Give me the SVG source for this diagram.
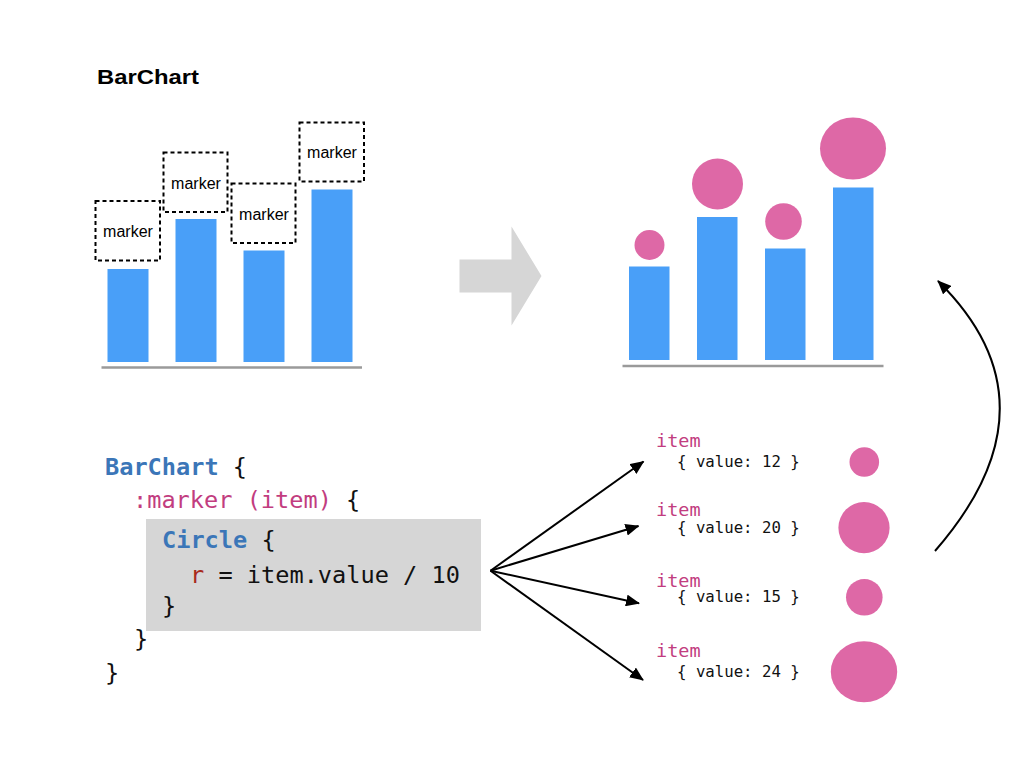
<svg xmlns="http://www.w3.org/2000/svg" width="1024" height="768" viewBox="0 0 1024 768">
<defs>
<style>
.bar{fill:#499ff8}
.base{stroke:#9a9a9a;stroke-width:2.5;fill:none}
.dot{fill:#de68a6}
.mk{fill:#fff;stroke:#000;stroke-width:2;stroke-dasharray:4 3}
.mkt{font-family:"Liberation Sans",Arial,sans-serif;font-size:16px;fill:#000;text-anchor:middle}
.title{font-family:"Liberation Sans",Arial,sans-serif;font-size:21px;font-weight:bold;fill:#000}
.code{font-family:"DejaVu Sans Mono","Liberation Mono",monospace;font-size:23.6px;fill:#111}
.kw{font-weight:bold;fill:#3b76b8}
.pk{fill:#c23d7f}
.rd{fill:#a82a1c}
.it{font-family:"DejaVu Sans Mono","Liberation Mono",monospace;font-size:18.5px;fill:#c23d7f}
.val{font-family:"DejaVu Sans Mono","Liberation Mono",monospace;font-size:15.7px;fill:#111}
.conn{stroke:#000;stroke-width:2;fill:none;marker-end:url(#ah)}
</style>
<marker id="ah" markerUnits="userSpaceOnUse" markerWidth="14" markerHeight="12" viewBox="0 0 14 12" refX="13" refY="6" orient="auto">
<path d="M0,0 L14,6 L0,12 Z" fill="#000"/>
</marker>
</defs>
<rect width="1024" height="768" fill="#fff"/>

<text class="title" x="97" y="84" textLength="102" lengthAdjust="spacingAndGlyphs">BarChart</text>

<g id="left-chart">
<rect class="bar" x="107.5" y="269" width="41" height="93"/>
<rect class="bar" x="175.5" y="219" width="41" height="143"/>
<rect class="bar" x="243.5" y="250.5" width="41" height="111.5"/>
<rect class="bar" x="311.5" y="189.5" width="41" height="172.5"/>
<line class="base" x1="101.5" y1="367.5" x2="362" y2="367.5"/>
</g>
<g id="marker1"><rect class="mk" x="95.5" y="201" width="64.5" height="59.5"/><text class="mkt" x="128" y="237">marker</text></g>
<g id="marker2"><rect class="mk" x="163.5" y="152.5" width="64" height="59.5"/><text class="mkt" x="196" y="189">marker</text></g>
<g id="marker3"><rect class="mk" x="231.5" y="183.5" width="64" height="59.5"/><text class="mkt" x="264" y="220">marker</text></g>
<g id="marker4"><rect class="mk" x="299.5" y="122.5" width="64.5" height="59"/><text class="mkt" x="332" y="158">marker</text></g>

<g id="big-arrow">
<path d="M459.5,259.5 H511.5 V226.5 L541.5,276 L511.5,325.5 V292.5 H459.5 Z" fill="#d6d6d6"/>
</g>

<g id="right-chart">
<rect class="bar" x="629" y="266.5" width="40.5" height="93.5"/>
<rect class="bar" x="697" y="217" width="40.5" height="143"/>
<rect class="bar" x="765" y="248.5" width="40.5" height="111.5"/>
<rect class="bar" x="833" y="187.5" width="40.5" height="172.5"/>
<line class="base" x1="622.5" y1="366" x2="883.5" y2="366"/>
<circle class="dot" cx="649.5" cy="245" r="15"/>
<circle class="dot" cx="717.5" cy="184" r="25.5"/>
<circle class="dot" cx="783.5" cy="221.5" r="18.3"/>
<ellipse class="dot" cx="853" cy="148.5" rx="33" ry="31"/>
</g>

<g id="code">
<rect x="146" y="519" width="335" height="112" fill="#d6d6d6"/>
<text class="code" x="105" y="475"><tspan class="kw">BarChart</tspan> {</text>
<text class="code" x="133" y="508"><tspan class="pk">:marker (item)</tspan> {</text>
<text class="code" x="162" y="548"><tspan class="kw">Circle</tspan> {</text>
<text class="code" x="190" y="583"><tspan class="rd">r</tspan> = item.value / 10</text>
<text class="code" x="162" y="614">}</text>
<text class="code" x="134" y="647">}</text>
<text class="code" x="105" y="681">}</text>
</g>

<g id="item1"><text class="it" x="656" y="447">item</text><text class="val" x="677" y="467">{ value: 12 }</text><circle class="dot" cx="864.3" cy="462" r="14.8"/></g>
<g id="item2"><text class="it" x="656" y="516">item</text><text class="val" x="677" y="533">{ value: 20 }</text><circle class="dot" cx="864" cy="527.7" r="25.6"/></g>
<g id="item3"><text class="it" x="656" y="586.5">item</text><text class="val" x="677" y="602">{ value: 15 }</text><circle class="dot" cx="864.3" cy="597.3" r="18.3"/></g>
<g id="item4"><text class="it" x="656" y="657">item</text><text class="val" x="677" y="677">{ value: 24 }</text><ellipse class="dot" cx="864" cy="671.7" rx="33.2" ry="30.5"/></g>

<g id="connectors">
<line class="conn" x1="490.5" y1="570.7" x2="643.5" y2="461.5"/>
<line class="conn" x1="490.5" y1="570.7" x2="638.5" y2="526"/>
<line class="conn" x1="490.5" y1="570.7" x2="639" y2="603.3"/>
<line class="conn" x1="490.5" y1="570.7" x2="643" y2="680"/>
<path class="conn" d="M935,551 Q1063,404 938,281"/>
</g>
</svg>
